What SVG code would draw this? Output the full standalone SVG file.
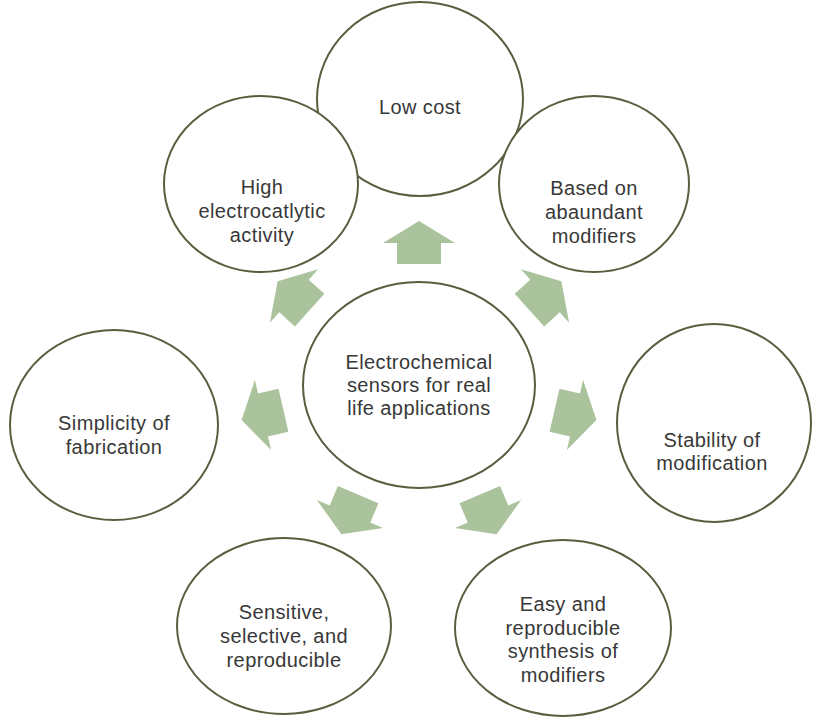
<svg xmlns="http://www.w3.org/2000/svg" xmlns:xlink="http://www.w3.org/1999/xlink" width="820" height="724" viewBox="0 0 820 724">
  <style>
    .bubble { fill: #ffffff; stroke: #56603f; stroke-width: 2; }
    .label { font-family: "Liberation Sans", Arial, sans-serif; font-size: 20px; letter-spacing: 0.4px; fill: #383838; text-anchor: middle; }
    .arrow { fill: #aac39c; }
  </style>
  <defs>
    <!-- block arrow pointing up; origin at the middle of the wing line -->
    <polygon id="blockArrow" points="0,-22 36,0 22,0 22,21 -22,21 -22,0 -36,0"/>
  </defs>
  <rect width="820" height="724" fill="#ffffff"/>

  <g id="connectors" class="arrow">
    <use xlink:href="#blockArrow" transform="translate(419,243)"/>
    <use xlink:href="#blockArrow" transform="translate(545,296) rotate(48)"/>
    <use xlink:href="#blockArrow" transform="translate(294,296) rotate(-48)"/>
    <use xlink:href="#blockArrow" transform="translate(575,415) rotate(103)"/>
    <use xlink:href="#blockArrow" transform="translate(263,415) rotate(-103)"/>
    <use xlink:href="#blockArrow" transform="translate(488,514) rotate(157)"/>
    <use xlink:href="#blockArrow" transform="translate(350,514) rotate(-157)"/>
  </g>

  <g id="center">
    <ellipse class="bubble" cx="419" cy="385" rx="116" ry="103"/>
    <text class="label" x="419" y="369">Electrochemical</text>
    <text class="label" x="419" y="392">sensors for real</text>
    <text class="label" x="419" y="415">life applications</text>
  </g>

  <g id="low-cost">
    <ellipse class="bubble" cx="420" cy="99" rx="103" ry="97"/>
    <text class="label" x="420" y="114">Low cost</text>
  </g>

  <g id="high-activity">
    <ellipse class="bubble" cx="261" cy="184" rx="97" ry="88"/>
    <text class="label" x="262" y="194">High</text>
    <text class="label" x="262" y="218">electrocatlytic</text>
    <text class="label" x="262" y="242">activity</text>
  </g>

  <g id="abundant-modifiers">
    <ellipse class="bubble" cx="594" cy="184" rx="95" ry="88"/>
    <text class="label" x="594" y="195">Based on</text>
    <text class="label" x="594" y="219">abaundant</text>
    <text class="label" x="594" y="243">modifiers</text>
  </g>

  <g id="simplicity">
    <ellipse class="bubble" cx="114" cy="425" rx="104" ry="95"/>
    <text class="label" x="114" y="430">Simplicity of</text>
    <text class="label" x="114" y="454">fabrication</text>
  </g>

  <g id="stability">
    <ellipse class="bubble" cx="714" cy="423" rx="97" ry="99"/>
    <text class="label" x="712" y="447">Stability of</text>
    <text class="label" x="712" y="470">modification</text>
  </g>

  <g id="sensitive">
    <ellipse class="bubble" cx="284" cy="626" rx="107" ry="88"/>
    <text class="label" x="284" y="619">Sensitive,</text>
    <text class="label" x="284" y="643">selective, and</text>
    <text class="label" x="284" y="667">reproducible</text>
  </g>

  <g id="easy-synthesis">
    <ellipse class="bubble" cx="563" cy="628" rx="108" ry="88"/>
    <text class="label" x="563" y="611">Easy and</text>
    <text class="label" x="563" y="635">reproducible</text>
    <text class="label" x="563" y="658">synthesis of</text>
    <text class="label" x="563" y="682">modifiers</text>
  </g>
</svg>
